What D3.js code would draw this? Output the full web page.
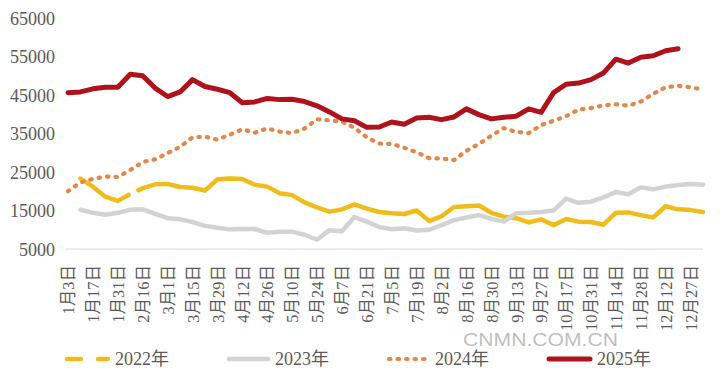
<!DOCTYPE html>
<html>
<head>
<meta charset="utf-8">
<script src="https://cdn.jsdelivr.net/npm/d3@7"></script>
<style>
  html, body { margin: 0; padding: 0; background: #fff; }
  svg { display: block; }
</style>
</head>
<body>
<svg id="chart" width="720" height="378"></svg>
<script>
// ---- data (category index 0..51, weekly) ----
const tickLabels = ["1月3日","1月17日","1月31日","2月16日","3月1日","3月15日","3月29日","4月12日","4月26日","5月10日","5月24日","6月7日","6月21日","7月5日","7月19日","8月2日","8月16日","8月30日","9月13日","9月27日","10月17日","10月31日","11月14日","11月28日","12月12日","12月27日"];
const categoryCount = 52;
const yTicks = [5000, 15000, 25000, 35000, 45000, 55000, 65000];

// first value of each series starts at the given category index
const start2022 = 1;
const values2022 = [23300,21200,18600,17500,19300,20800,21800,21900,21100,20900,20200,23100,23300,23200,21700,21200,19500,19000,17100,15800,14700,15300,16600,15500,14600,14300,14100,15000,12300,13500,15900,16100,16300,14400,13400,13000,11900,12700,11200,12800,12100,12000,11300,14400,14500,13800,13200,16100,15300,15100,14600];
const start2023 = 1;
const values2023 = [15200,14400,13900,14400,15200,15300,14100,13000,12700,12000,11000,10500,10100,10200,10200,9200,9500,9500,8700,7400,9900,9600,13300,12100,10700,10100,10400,9800,10000,11200,12500,13200,13800,12800,12100,14300,14400,14600,15000,18100,17000,17300,18400,19800,19200,21000,20500,21200,21600,21900,21700];
const start2024 = 0;
const values2024 = [20000,22300,23200,23800,23700,25500,27600,28300,29900,31500,34000,34200,33400,34700,36100,35200,36300,35500,35100,36300,38700,38400,38100,36500,34000,32400,32300,31300,30100,28600,28500,28100,30500,32300,34400,36400,35400,35100,37200,38300,39500,41200,41600,42300,42600,42200,43300,45300,47000,47400,47000,46400];
const start2025 = 0;
const values2025 = [45600,45800,46600,47000,47000,50400,50000,46800,44600,45800,49000,47200,46500,45600,43000,43200,44100,43800,43900,43300,42200,40600,38800,38300,36600,36700,38000,37400,39000,39200,38600,39300,41400,39900,38800,39200,39500,41400,40500,45600,47800,48100,49000,50700,54300,53300,54800,55200,56500,57000];

const seriesNames = ["2022年","2023年","2024年","2025年"];

// ---- layout ----
const svg = d3.select("#chart");
const x = d3.scaleLinear().domain([0, categoryCount - 1]).range([68, 703]);
const y = d3.scaleLinear().domain([5000, 65000]).range([249, 18]);

const serif = "'Liberation Serif', 'Times New Roman', 'Noto Sans CJK SC', serif";
const textColor = "#595959";

// baseline grid line
svg.append("line")
  .attr("x1", x(0) - 2).attr("x2", x(categoryCount - 1))
  .attr("y1", y(5000)).attr("y2", y(5000))
  .attr("stroke", "#d9d9d9").attr("stroke-width", 1);

// y axis labels
const yAxis = d3.axisLeft(y).tickValues(yTicks).tickSize(0).tickPadding(0).tickFormat(d3.format("d"));
const yg = svg.append("g").attr("transform", "translate(55,0)").call(yAxis);
yg.select(".domain").remove();
yg.selectAll("text")
  .attr("font-family", serif).attr("font-size", 18).attr("fill", textColor)
  .attr("x", 0).attr("dy", "0.35em");

// x axis labels
const xAxis = d3.axisBottom(x)
  .tickValues(d3.range(0, categoryCount - 1, 2))
  .tickSize(0)
  .tickFormat(i => tickLabels[i / 2]);
const xg = svg.append("g").attr("transform", `translate(0,${y(5000)})`).call(xAxis);
xg.select(".domain").remove();
xg.selectAll("text")
  .attr("font-family", serif).attr("font-size", 16.5).attr("fill", textColor)
  .attr("transform", "rotate(-90)")
  .attr("text-anchor", "end")
  .attr("x", -16).attr("y", 0).attr("dy", "0.35em");

// watermark
svg.append("text")
  .attr("x", 463).attr("y", 346)
  .attr("textLength", 155).attr("lengthAdjust", "spacingAndGlyphs")
  .attr("font-family", "'Liberation Sans', Arial, sans-serif")
  .attr("font-size", 18)
  .attr("fill", "#b4b4b4").attr("fill-opacity", 0.85)
  .text("CNMN.COM.CN");

// lines
const line = d3.line().x(d => x(d.i)).y(d => y(d.v));
const toPts = (start, vals) => vals.map((v, k) => ({ i: start + k, v }));

const styles = [
  { name: seriesNames[0], pts: toPts(start2022, values2022), color: "#EEBD1C", width: 4.5, dash: null },
  { name: seriesNames[1], pts: toPts(start2023, values2023), color: "#D3D3D3", width: 4.5, dash: null },
  { name: seriesNames[2], pts: toPts(start2024, values2024), color: "#DF8A4C", width: 4.2, dash: "1.5 7" },
  { name: seriesNames[3], pts: toPts(start2025, values2025), color: "#B0121B", width: 5, dash: null }
];

styles.forEach((s, idx) => {
  const p = svg.append("path")
    .datum(s.pts)
    .attr("d", line)
    .attr("fill", "none")
    .attr("stroke", s.color)
    .attr("stroke-width", s.width)
    .attr("stroke-linejoin", "round")
    .attr("stroke-linecap", "round");
  if (s.dash) p.attr("stroke-dasharray", s.dash);
  if (idx === 0) {
    // long-dash style: a single gap appears after the 5th category
    const partial = svg.append("path").attr("d", line(s.pts.filter(d => d.i <= 5))).attr("visibility", "hidden");
    const L = partial.node().getTotalLength();
    partial.remove();
    const total = p.node().getTotalLength();
    p.attr("stroke-dasharray", `${L - 2} 11 ${total + 100}`);
  }
});

// legend
const legY = 359;
const legend = [
  { x1: 67, x2: 108, tx: 115, s: styles[0], dash: "14 17" },
  { x1: 229, x2: 268, tx: 275, s: styles[1], dash: null },
  { x1: 389, x2: 428, tx: 435, s: styles[2], dash: "1.5 7" },
  { x1: 549, x2: 590, tx: 597, s: styles[3], dash: null }
];
legend.forEach(l => {
  const ln = svg.append("line")
    .attr("x1", l.x1).attr("x2", l.x2).attr("y1", legY).attr("y2", legY)
    .attr("stroke", l.s.color).attr("stroke-width", l.s.width)
    .attr("stroke-linecap", "round");
  if (l.dash) ln.attr("stroke-dasharray", l.dash);
  svg.append("text")
    .attr("x", l.tx).attr("y", legY).attr("dy", "0.35em")
    .attr("font-family", serif).attr("font-size", 18).attr("fill", textColor)
    .text(l.s.name);
});
</script>
</body>
</html>
